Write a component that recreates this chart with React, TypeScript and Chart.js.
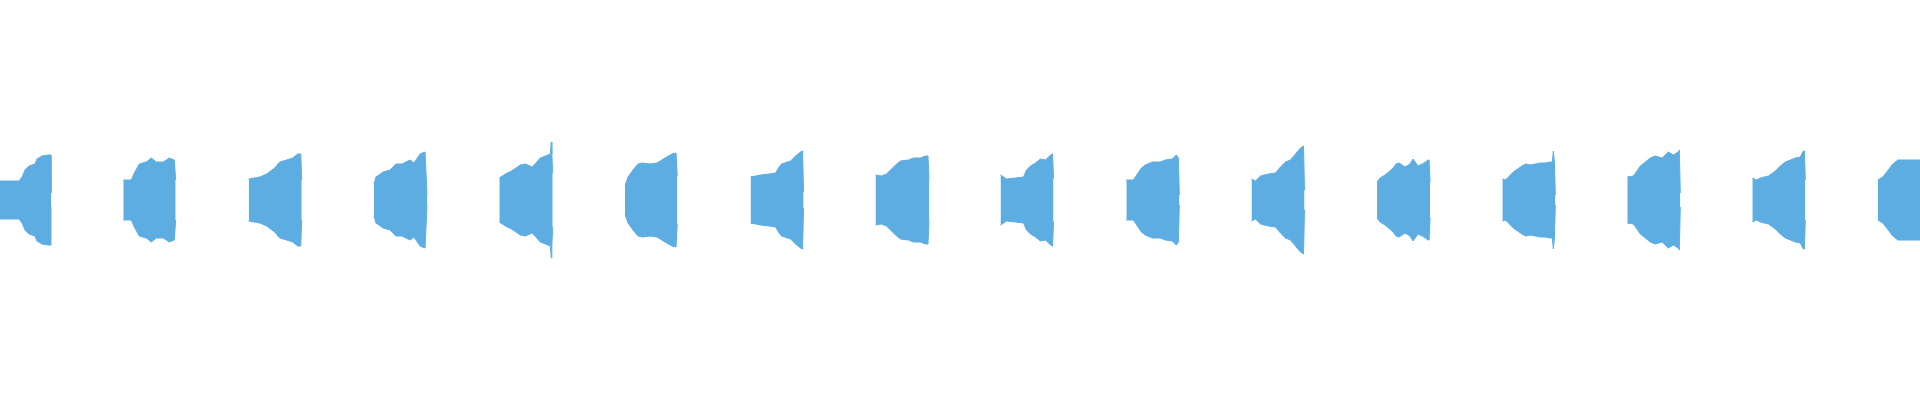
import { useEffect, useRef } from 'react'
import { Chart, registerables } from 'chart.js'

Chart.register(...registerables)

// total clip length shown, seconds
const DURATION = 15.323

// start time of each burst, seconds
const burstStart = [
  0, 0.984, 1.985, 2.985, 3.985, 4.988, 5.99, 6.987,
  7.985, 8.989, 9.988, 10.99, 11.99, 12.987, 13.985, 14.986,
]

// envelope of each burst: time from burst start (ms) and peak amplitude (0..1)
const b00Ms = [0, 152, 176, 200, 231, 279, 295, 335, 383, 405, 407]
const b00Amp = [0.095, 0.095, 0.115, 0.15, 0.17, 0.18, 0.205, 0.22, 0.225, 0.225, 0.035]

const b01Ms = [0, 64, 88, 128, 184, 223, 263, 319, 367, 407, 418]
const b01Amp = [0.1, 0.1, 0.135, 0.18, 0.19, 0.21, 0.19, 0.19, 0.21, 0.2, 0.1]

const b02Ms = [0, 88, 144, 207, 247, 303, 351, 391, 415, 423]
const b02Amp = [0.105, 0.115, 0.13, 0.16, 0.19, 0.2, 0.21, 0.23, 0.23, 0.1]

const b03Ms = [0, 16, 72, 128, 176, 223, 287, 319, 367, 407, 423]
const b03Amp = [0.08, 0.115, 0.14, 0.15, 0.18, 0.18, 0.2, 0.185, 0.23, 0.24, 0.025]

const b04Ms = [0, 48, 96, 168, 207, 263, 327, 367, 407, 415, 419, 426]
const b04Amp = [0.11, 0.13, 0.145, 0.175, 0.18, 0.165, 0.21, 0.22, 0.23, 0.29, 0.23, 0.135]

const b05Ms = [0, 24, 64, 104, 136, 200, 255, 319, 375, 407, 417]
const b05Amp = [0.07, 0.115, 0.15, 0.18, 0.185, 0.18, 0.185, 0.21, 0.23, 0.235, 0.12]

const b06Ms = [0, 80, 144, 200, 223, 247, 319, 359, 399, 415, 423]
const b06Amp = [0.115, 0.125, 0.13, 0.135, 0.16, 0.18, 0.195, 0.22, 0.24, 0.245, 0.04]

const b07Ms = [0, 48, 88, 120, 160, 200, 263, 303, 359, 399, 419, 427]
const b07Amp = [0.125, 0.12, 0.13, 0.15, 0.175, 0.195, 0.2, 0.21, 0.21, 0.22, 0.22, 0.105]

const b08Ms = [0, 48, 120, 184, 207, 239, 279, 319, 359, 399, 415, 423]
const b08Amp = [0.125, 0.105, 0.11, 0.115, 0.15, 0.17, 0.185, 0.205, 0.2, 0.225, 0.23, 0.11]

const b09Ms = [0, 56, 88, 120, 152, 207, 271, 311, 367, 399, 415, 423]
const b09Amp = [0.1, 0.1, 0.13, 0.16, 0.175, 0.19, 0.19, 0.2, 0.205, 0.225, 0.21, 0.025]

const b10Ms = [0, 32, 72, 136, 192, 231, 271, 311, 351, 391, 415, 423]
const b10Amp = [0.105, 0.095, 0.12, 0.13, 0.135, 0.165, 0.19, 0.2, 0.23, 0.26, 0.27, 0.05]

const b11Ms = [0, 24, 64, 128, 152, 176, 223, 263, 287, 327, 375, 407, 415, 423]
const b11Amp = [0.09, 0.11, 0.125, 0.16, 0.18, 0.185, 0.165, 0.18, 0.205, 0.17, 0.185, 0.2, 0.2, 0.09]

const b12Ms = [0, 24, 48, 88, 144, 184, 223, 263, 303, 343, 383, 399, 407, 415, 423]
const b12Amp = [0.105, 0.1, 0.115, 0.14, 0.165, 0.18, 0.175, 0.18, 0.185, 0.185, 0.19, 0.19, 0.245, 0.19, 0.025]

const b13Ms = [0, 48, 72, 104, 144, 184, 223, 279, 327, 367, 407, 415, 423]
const b13Amp = [0.115, 0.12, 0.14, 0.17, 0.19, 0.21, 0.22, 0.21, 0.24, 0.225, 0.24, 0.25, 0.035]

const b14Ms = [0, 32, 64, 128, 184, 223, 263, 303, 343, 383, 407, 415, 423]
const b14Amp = [0.11, 0.1, 0.11, 0.12, 0.145, 0.17, 0.19, 0.2, 0.21, 0.215, 0.245, 0.245, 0.1]

const b15Ms = [0, 40, 72, 120, 160, 255, 295, 338]
const b15Amp = [0.1, 0.115, 0.14, 0.18, 0.2, 0.2, 0.2, 0.2]

const burstMs = [b00Ms, b01Ms, b02Ms, b03Ms, b04Ms, b05Ms, b06Ms, b07Ms, b08Ms, b09Ms, b10Ms, b11Ms, b12Ms, b13Ms, b14Ms, b15Ms]
const burstAmp = [b00Amp, b01Amp, b02Amp, b03Amp, b04Amp, b05Amp, b06Amp, b07Amp, b08Amp, b09Amp, b10Amp, b11Amp, b12Amp, b13Amp, b14Amp, b15Amp]

const WAVE_COLOR = '#5DADE2'

export default function App() {
  const chartRef = useRef<HTMLCanvasElement>(null)
  const chartInstance = useRef<Chart | null>(null)

  useEffect(() => {
    if (!chartRef.current) return
    if (chartInstance.current) {
      chartInstance.current.destroy()
    }
    const ctx = chartRef.current.getContext('2d')
    if (!ctx) return

    // each burst drawn as an upper and lower half filled to the zero line
    const datasets: any[] = []
    burstStart.forEach((start, i) => {
      const ms = burstMs[i]
      const amp = burstAmp[i]
      const upper = ms.map((t, j) => ({ x: start + t / 1000, y: amp[j] }))
      const lower = ms.map((t, j) => ({ x: start + t / 1000, y: -amp[j] }))
      for (const pts of [upper, lower]) {
        datasets.push({
          data: pts,
          borderColor: WAVE_COLOR,
          backgroundColor: WAVE_COLOR,
          borderWidth: 1,
          pointRadius: 0,
          tension: 0,
          fill: 'origin',
        })
      }
    })

    chartInstance.current = new Chart(ctx, {
      type: 'line',
      data: { datasets },
      options: {
        animation: false,
        responsive: true,
        maintainAspectRatio: false,
        layout: { padding: 0 },
        plugins: {
          legend: { display: false },
          tooltip: { enabled: false },
        },
        scales: {
          x: { type: 'linear', min: 0, max: DURATION, display: false },
          y: { min: -1, max: 1, display: false },
        },
      },
    })

    return () => {
      if (chartInstance.current) {
        chartInstance.current.destroy()
        chartInstance.current = null
      }
    }
  }, [])

  return (
    <div style={{ position: 'fixed', left: 0, top: 0, width: 1920, height: 400, background: '#fff' }}>
      <canvas ref={chartRef} />
    </div>
  )
}
